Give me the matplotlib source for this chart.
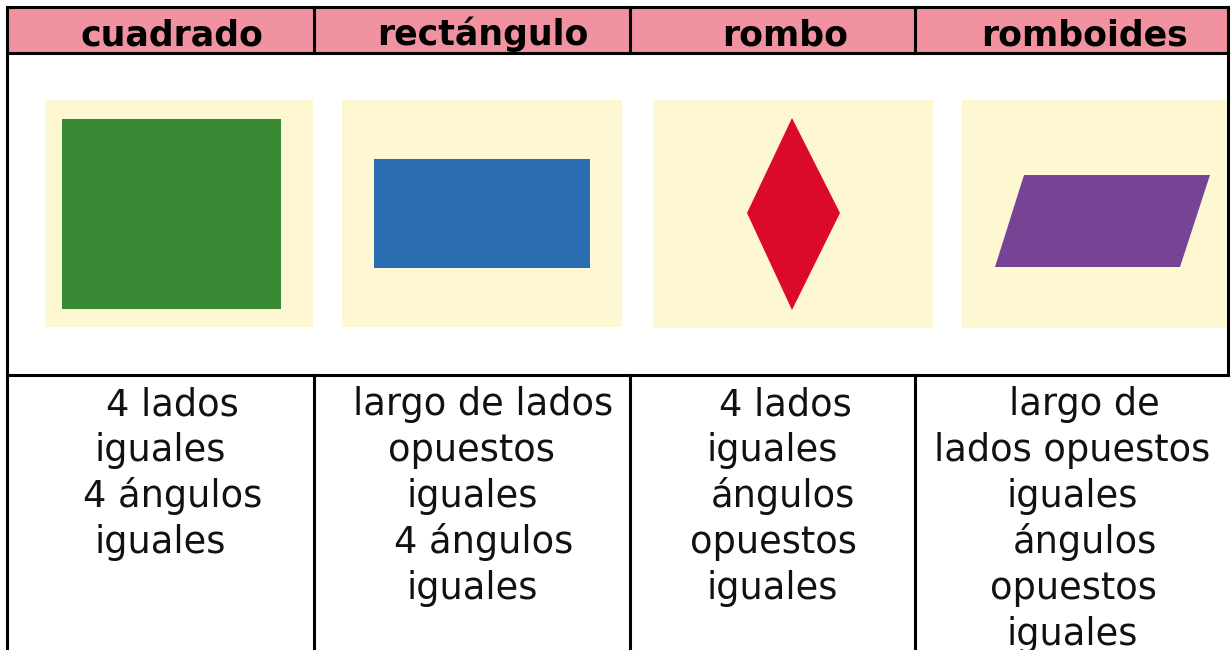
import matplotlib.pyplot as plt
from matplotlib.patches import Rectangle, Polygon

# table content
headers = ["cuadrado", "rectángulo", "rombo", "romboides"]
descriptions = [
    ["4 lados", "iguales", "4 ángulos", "iguales"],
    ["largo de lados", "opuestos", "iguales", "4 ángulos", "iguales"],
    ["4 lados", "iguales", "ángulos", "opuestos", "iguales"],
    ["largo de", "lados opuestos", "iguales", "ángulos", "opuestos", "iguales"],
]
# per-line horizontal centres (the original text is not perfectly centred)
line_x = [
    [172, 160, 173, 160],
    [483, 471, 472, 484, 472],
    [785, 772, 783, 773, 772],
    [1084, 1072, 1072, 1085, 1073, 1072],
]
header_x = [172, 483, 785, 1084]

# shapes: name, colour, vertices (pixel space)
panels = [(45, 100, 313, 327), (342, 100, 622, 327), (653, 100, 933, 328), (962, 100, 1227, 328)]
shapes = [
    ("#3a8a35", [(62, 119), (281, 119), (281, 309), (62, 309)]),
    ("#2b6db3", [(374, 159), (590, 159), (590, 268), (374, 268)]),
    ("#dc0a2a", [(792, 118), (840, 213), (792, 310), (747, 213)]),
    ("#774394", [(1024, 175), (1210, 175), (1180, 267), (995, 267)]),
]

pink = "#f0929f"
cream = "#fdf8d2"

fig = plt.figure(figsize=(12.31, 6.50), dpi=100)
ax = fig.add_axes([0, 0, 1, 1])
ax.set_xlim(0, 1231)
ax.set_ylim(650, 0)
ax.axis("off")

# header band
ax.add_patch(Rectangle((7, 7), 1221, 46, facecolor=pink, edgecolor="none"))

# cream panels + shapes
for (x0, y0, x1, y1) in panels:
    ax.add_patch(Rectangle((x0, y0), x1 - x0, y1 - y0, facecolor=cream, edgecolor="none"))
for color, verts in shapes:
    ax.add_patch(Polygon(verts, closed=True, facecolor=color, edgecolor="none"))

# grid lines
lw = 2.2
ax.plot([7, 1228], [7, 7], color="black", lw=lw)
ax.plot([7, 1228], [53, 53], color="black", lw=lw)
ax.plot([7, 1228], [375, 375], color="black", lw=lw)
ax.plot([7, 7], [7, 650], color="black", lw=lw)
ax.plot([1228, 1228], [7, 375], color="black", lw=lw)
for xd in [314, 630, 915]:
    ax.plot([xd, xd], [7, 53], color="black", lw=lw)
    ax.plot([xd, xd], [375, 650], color="black", lw=lw)

# header text
for name, xc in zip(headers, header_x):
    ax.text(xc, 45, name, ha="center", va="baseline", fontsize=25,
            fontweight="bold", color="black", family="DejaVu Sans")

# description text
for lines, xs in zip(descriptions, line_x):
    for i, (t, xc) in enumerate(zip(lines, xs)):
        ax.text(xc, 415 + 46 * i, t, ha="center", va="baseline", fontsize=26.5,
                color="#111111", family="DejaVu Sans")

fig.savefig("out.png", dpi=100, facecolor="white")
